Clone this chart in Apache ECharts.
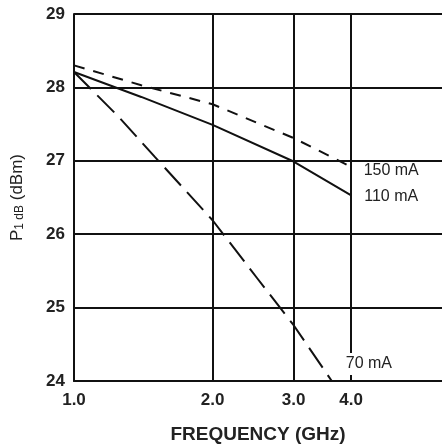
<!DOCTYPE html>
<html>
<head>
<meta charset="utf-8">
<script src="https://cdn.jsdelivr.net/npm/echarts@6/dist/echarts.min.js"></script>
<style>html,body{margin:0;padding:0;background:#fff;}#c{width:442px;height:448px;}</style>
</head>
<body>
<div id="c"></div>
<script>
const xTicks = [1, 2, 3, 4];
const freq150 = [1.0, 1.4, 2.0, 3.0, 3.93];
const p150 = [28.30, 28.03, 27.77, 27.31, 26.94];
const freq110 = [1.0, 1.4, 2.0, 3.0, 4.0];
const p110 = [28.21, 27.87, 27.49, 26.99, 26.53];
const freq70 = [1.0, 1.25, 1.5, 2.0, 2.5, 3.0, 3.63];
const p70 = [28.21, 27.6, 27.05, 26.19, 25.4, 24.76, 24.0];
const seriesNames = ['150 mA', '110 mA', '70 mA'];

const font = 'Liberation Sans, Arial, sans-serif';
const ink = '#111';
const pairs = (xs, ys) => xs.map((x, i) => [x, ys[i]]);

const chart = echarts.init(document.getElementById('c'), null, {renderer: 'canvas'});
chart.setOption({
  animation: false,
  backgroundColor: '#fff',
  grid: {left: 74, top: 14, right: 0, bottom: 67, containLabel: false, outerBoundsMode: 'none'},
  xAxis: {
    type: 'log', logBase: 10, min: 1, max: 6.3,
    axisLine: {show: true, lineStyle: {color: ink, width: 2}},
    axisTick: {show: false, customValues: xTicks},
    axisLabel: {customValues: xTicks, formatter: v => Number(v).toFixed(1), fontFamily: font, fontWeight: 'bold', fontSize: 17, color: '#222', margin: 11},
    splitLine: {show: true, lineStyle: {color: ink, width: 2}},
    name: 'FREQUENCY (GHz)', nameLocation: 'middle', nameGap: 44,
    nameTextStyle: {fontFamily: font, fontWeight: 'bold', fontSize: 19, color: '#222'}
  },
  yAxis: {
    type: 'value', min: 24, max: 29, interval: 1,
    axisLine: {show: true, lineStyle: {color: ink, width: 2}},
    axisTick: {show: false},
    axisLabel: {fontFamily: font, fontWeight: 'bold', fontSize: 17, color: '#222', margin: 9},
    splitLine: {show: true, lineStyle: {color: ink, width: 2}},
    name: '{p|P}{s|1 dB}{p| (dBm)}', nameLocation: 'middle', nameGap: 48, nameRotate: 90,
    nameTextStyle: {rich: {
      p: {fontFamily: font, fontSize: 17, color: '#222'},
      s: {fontFamily: font, fontSize: 12, color: '#222', verticalAlign: 'bottom', padding: [6, 0, 0, 0]}
    }}
  },
  series: [
    {name: seriesNames[0], type: 'line', data: pairs(freq150, p150), showSymbol: false, silent: true,
     lineStyle: {color: ink, width: 2, type: [11, 9]},
     endLabel: {show: true, formatter: seriesNames[0], offset: [8, 5], fontFamily: font, fontSize: 16, color: '#222'}},
    {name: seriesNames[1], type: 'line', data: pairs(freq110, p110), showSymbol: false, silent: true,
     lineStyle: {color: ink, width: 2},
     endLabel: {show: true, formatter: seriesNames[1], offset: [5, 1], fontFamily: font, fontSize: 16, color: '#222'}},
    {name: seriesNames[2], type: 'line', data: pairs(freq70, p70), showSymbol: false, silent: true,
     lineStyle: {color: ink, width: 2, type: [24, 9]},
     endLabel: {show: true, formatter: seriesNames[2], offset: [4, -17], fontFamily: font, fontSize: 16, color: '#222', backgroundColor: '#fff', padding: [3, 2]}}
  ]
});
</script>
</body>
</html>
